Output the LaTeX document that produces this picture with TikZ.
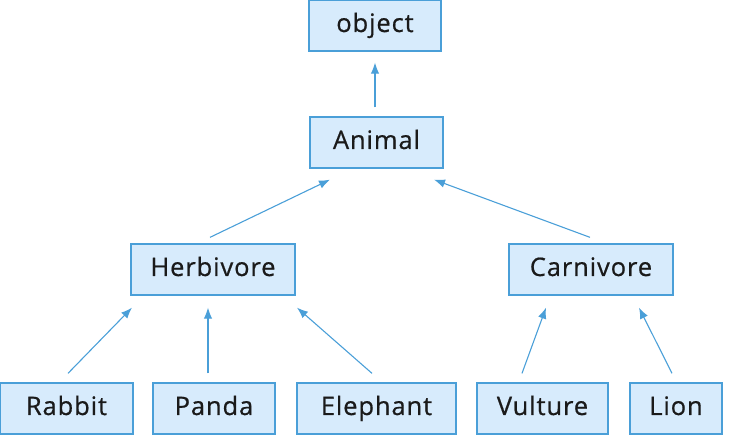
\documentclass[tikz,border=0pt]{standalone}
\usepackage{fontspec}
\setmainfont[LetterSpace=3.5,FakeBold=0.6]{Open Sans}
\usetikzlibrary{calc,arrows.meta}
\definecolor{boxfill}{HTML}{D7EBFC}
\definecolor{boxline}{HTML}{4A9FD8}
\definecolor{txt}{HTML}{1A1A1A}
\tikzset{
  cls/.style={draw=boxline, fill=boxfill, line width=1.3pt, minimum height=51pt,
    inner sep=0pt, text height=17pt, text depth=4pt, text=txt,
    font=\fontsize{25.5}{28}\selectfont},
  inh/.style={draw=boxline, line width=1.1pt, -{Latex[length=11pt,width=8.5pt]}}
}
\begin{document}
\begin{tikzpicture}[x=1pt,y=-1pt]
\useasboundingbox (0,0) rectangle (740,435);
\node[cls, minimum width=132pt] (object) at (375,25.5) {object};
\node[cls, minimum width=133pt] (Animal) at (376.5,142.5) {Animal};
\node[cls, minimum width=164pt] (Herb) at (213,269.5) {Herbivore};
\node[cls, minimum width=164pt] (Carn) at (591,269.5) {Carnivore};
\node[cls, minimum width=133pt] (Rabbit) at (66.5,408.5) {Rabbit};
\node[cls, minimum width=122pt] (Panda) at (214,408.5) {Panda};
\node[cls, minimum width=159pt] (Eleph) at (376.5,408.5) {Elephant};
\node[cls, minimum width=131pt] (Vult) at (542.5,408.5) {Vulture};
\node[cls, minimum width=92pt] (Lion) at (676,408.5) {Lion};

\draw[inh] ($(Animal.north)+(-1.5,-9)$) -- ($(object.south)+(0,11)$);
\draw[inh] ($(Herb.north)+(-3,-6)$) -- ($(Animal.south)+(-46.5,11)$);
\draw[inh] ($(Carn.north)+(-1,-6)$) -- ($(Animal.south)+(57.5,11)$);
\draw[inh] ($(Rabbit.north)+(1.5,-9)$) -- ($(Herb.south)+(-81,12)$);
\draw[inh] ($(Panda.north)+(-6,-9)$) -- ($(Herb.south)+(-5,12)$);
\draw[inh] ($(Eleph.north)+(-4.5,-9)$) -- ($(Herb.south)+(84,12)$);
\draw[inh] ($(Vult.north)+(-20.5,-9)$) -- ($(Carn.south)+(-45,12)$);
\draw[inh] ($(Lion.north)+(-4,-9)$) -- ($(Carn.south)+(48,12)$);
\end{tikzpicture}
\end{document}
